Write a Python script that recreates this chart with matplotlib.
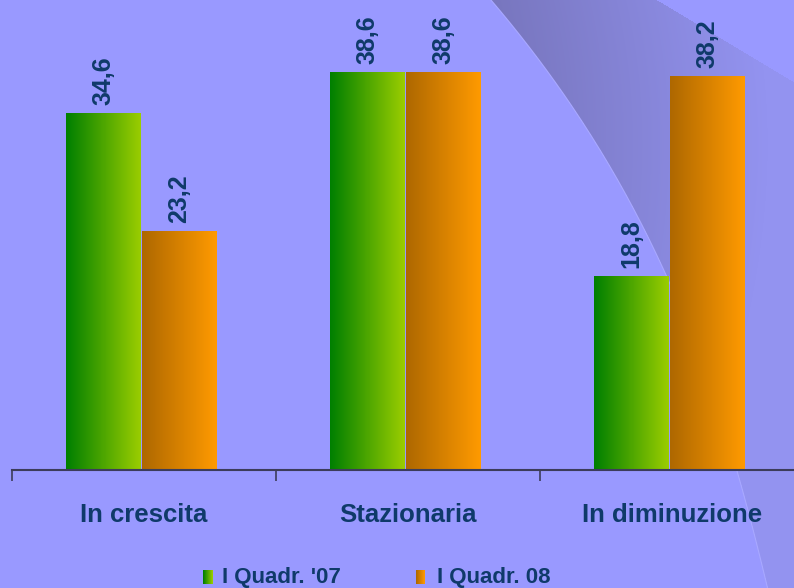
import numpy as np
import matplotlib
matplotlib.use("Agg")
import matplotlib.pyplot as plt

# Data
categories = ["In crescita", "Stazionaria", "In diminuzione"]
series_names = ["I Quadr. '07", "I Quadr. 08"]
q07 = [34.6, 38.6, 18.8]
q08 = [23.2, 38.6, 38.2]

plt.rcParams['font.family'] = ['Liberation Sans', 'DejaVu Sans']
navy = "#0F3A6A"
green_grad = ["#007F00", "#9ACD00"]
orange_grad = ["#AE6800", "#FF9A00"]

W, H = 794, 588
fig = plt.figure(figsize=(W / 100, H / 100), dpi=100)

# Background with the darker swoosh
yy, xx = np.mgrid[0:H, 0:W].astype(float)
coef = np.polyfit([0, 90, 250, 283, 477, 588], [490, 563, 652, 670, 740, 767], 3)
xl = np.polyval(coef, yy)
xr = 657 + 1.67 * yy
base = np.array([0x99, 0x99, 0xFF]) / 255
dark = np.array([0x78, 0x76, 0xBE]) / 255
light = np.array([0x93, 0x93, 0xF0]) / 255
t = np.clip((xx - xl) / 260 + yy / 420, 0, 1)
img = np.ones((H, W, 3)) * base
band = dark + (light - dark) * t[..., None]
inside = (xx > xl) & (xx < xr)
img[inside] = band[inside]

bg = fig.add_axes([0, 0, 1, 1], zorder=0)
bg.imshow(img, extent=[0, W, H, 0], aspect="auto")
ys = np.linspace(0, H, 200)
bg.plot(np.polyval(coef, ys), ys, color="#A8A8FF", lw=0.8)
bg.set_xlim(0, W)
bg.set_ylim(H, 0)
bg.axis("off")


def hgrad(c0, c1, n=64):
    a = np.array(matplotlib.colors.to_rgb(c0))
    b = np.array(matplotlib.colors.to_rgb(c1))
    s = np.linspace(0, 1, n)[None, :, None]
    return a + (b - a) * s


# Main axes
ax = fig.add_axes([12 / W, 118 / H, 1 - 12 / W, 470 / H], zorder=1)
ax.patch.set_alpha(0)

x = np.arange(len(categories))
bw = 0.284
for vals, dx, grad in [(q07, -0.153, green_grad), (q08, 0.134, orange_grad)]:
    bars = ax.bar(x + dx, vals, bw, color="none", edgecolor="none")
    for b, v in zip(bars, vals):
        x0 = b.get_x()
        ax.imshow(hgrad(*grad), extent=[x0, x0 + b.get_width(), 0, v],
                  aspect="auto", zorder=2)
        ax.annotate(f"{v:.1f}".replace(".", ","), (x0 + b.get_width() / 2, v),
                    xytext=(0, 6), textcoords="offset points", rotation=90,
                    ha="center", va="bottom", fontsize=18, fontweight="bold",
                    color=navy)

for s in ["top", "right", "left"]:
    ax.spines[s].set_visible(False)
ax.spines["bottom"].set_color("#3C3C5A")
ax.spines["bottom"].set_linewidth(1.5)
ax.set_yticks([])
ax.set_xticks(x)
ax.set_xticklabels(categories, fontsize=18.5, fontweight="bold", color=navy)
ax.tick_params(axis="x", which="major", length=0, pad=24)
ax.set_xticks(np.arange(-0.5, 3.0, 1.0), minor=True)
ax.tick_params(axis="x", which="minor", length=8, width=1.2, color="#3C3C5A",
               direction="out")

ax.set_xlim(-0.5, -0.5 + (W - 12) / 264)
ax.set_ylim(0, 470 / 10.3)

# Legend
for sx, lx, name, grad in [(203, 222, series_names[0], green_grad),
                           (416, 437, series_names[1], orange_grad)]:
    sw = fig.add_axes([sx / W, (H - 584) / H, 9 / W, 14 / H], zorder=2)
    sw.imshow(hgrad(*grad, n=16), aspect="auto")
    sw.axis("off")
    fig.text(lx / W, (H - 577) / H, name, fontsize=16, fontweight="bold",
             color=navy, va="center", ha="left")

fig.savefig("out.png", dpi=100)
